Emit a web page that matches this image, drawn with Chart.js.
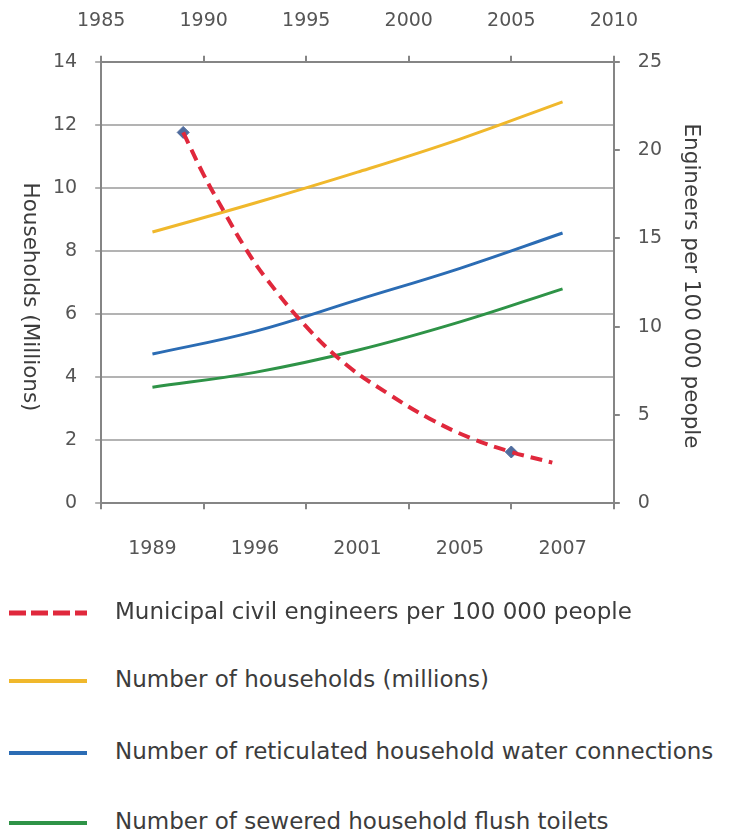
<!DOCTYPE html>
<html>
<head>
<meta charset="utf-8">
<script src="https://cdn.jsdelivr.net/npm/chart.js@4/dist/chart.umd.min.js"></script>
<style>
  html, body { margin: 0; padding: 0; background: #ffffff; }
  #wrap { position: relative; width: 733px; height: 838px; overflow: hidden; font-family: "DejaVu Sans", "Liberation Sans", Arial, sans-serif; }
  #chartBox { position: absolute; left: 0; top: -20px; width: 733px; height: 618px; }
  .leg { position: absolute; left: 0; height: 30px; width: 733px; }
  .leg svg { position: absolute; left: 0; top: 0; }
  .leg .tx { position: absolute; left: 115px; top: 0; font-size: 23px; line-height: 30px; color: #3c3c3c; white-space: nowrap; }
</style>
</head>
<body>
<div id="wrap">
  <div id="chartBox"><canvas id="c"></canvas></div>
  <div id="legend"></div>
</div>
<script>
// ---- data ----
const categories = ["1989", "1996", "2001", "2005", "2007"];
const households = [8.6, 9.52, 10.5, 11.55, 12.73];
const waterConnections = [4.73, 5.45, 6.45, 7.45, 8.57];
const flushToilets = [3.68, 4.15, 4.85, 5.75, 6.8];

const engineerYears = [1989, 1990, 1991, 1992, 1993, 1995, 1997, 1999, 2001, 2003, 2005, 2007];
const engineerValues = [21.0, 18.6, 16.5, 14.5, 12.8, 10.0, 7.8, 6.2, 4.8, 3.7, 2.9, 2.3];
const engineerMarkerYears = [1989, 2005];
const engineerMarkerValues = [21.0, 2.9];

const topTickMin = 1985, topTickMax = 2010, topTickStep = 5;
const leftMax = 14, leftStep = 2;
const rightMax = 25, rightStep = 5;

const seriesNames = [
  "Municipal civil engineers per 100 000 people",
  "Number of households (millions)",
  "Number of reticulated household water connections",
  "Number of sewered  household flush toilets"
];
const leftTitle = "Households (Millions)";
const rightTitle = "Engineers per 100 000 people";

// ---- styles ----
const RED = "#E0283C", YELLOW = "#F0B82C", BLUE = "#2B6CB4", GREEN = "#2E9347", MARKER = "#4F6C9E";
const AXIS = "#858585", GRID = "#b3b3b3", TICKTXT = "#555555";
const FONT = "'DejaVu Sans', 'Liberation Sans', Arial, sans-serif";
const tickFont = { family: FONT, size: 19 };

const engineerPts = engineerYears.map((y, i) => ({ x: y, y: engineerValues[i] }));
const markerPts = engineerMarkerYears.map((y, i) => ({ x: y, y: engineerMarkerValues[i] }));

const axisTitles = {
  id: "axisTitles",
  afterDraw(chart) {
    const ctx = chart.ctx;
    const off = 20; // container shifted up by 20px
    [[leftTitle, 30, 297], [rightTitle, 691, 286]].forEach(([t, x, y]) => {
      ctx.save();
      ctx.fillStyle = "#3c3c3c";
      ctx.font = "21.5px " + FONT;
      ctx.textAlign = "center";
      ctx.textBaseline = "middle";
      ctx.translate(x, y + off);
      ctx.rotate(Math.PI / 2);
      ctx.fillText(t, 0, 0);
      ctx.restore();
    });
  }
};

new Chart(document.getElementById("c"), {
  type: "line",
  data: {
    labels: categories,
    datasets: [
      { label: seriesNames[0], data: engineerPts, xAxisID: "x2", yAxisID: "y2",
        borderColor: RED, borderWidth: 4, borderDash: [12, 7], pointRadius: 0, tension: 0.4, fill: false, order: 1 },
      { label: "markers", data: markerPts, xAxisID: "x2", yAxisID: "y2", showLine: false,
        pointStyle: "rectRot", pointRadius: 6, pointBackgroundColor: MARKER, pointBorderColor: MARKER, borderColor: MARKER, order: 2 },
      { label: seriesNames[1], data: households, xAxisID: "x", yAxisID: "y",
        borderColor: YELLOW, borderWidth: 3, pointRadius: 0, tension: 0.4, fill: false, order: 3 },
      { label: seriesNames[2], data: waterConnections, xAxisID: "x", yAxisID: "y",
        borderColor: BLUE, borderWidth: 3, pointRadius: 0, tension: 0.4, fill: false, order: 4 },
      { label: seriesNames[3], data: flushToilets, xAxisID: "x", yAxisID: "y",
        borderColor: GREEN, borderWidth: 3, pointRadius: 0, tension: 0.4, fill: false, order: 5 }
    ]
  },
  options: {
    responsive: true,
    maintainAspectRatio: false,
    animation: false,
    layout: { padding: { left: 35, right: 53, top: 7, bottom: 10 } },
    plugins: { legend: { display: false }, tooltip: { enabled: false }, title: { display: false } },
    scales: {
      x: {
        type: "category", position: "bottom", offset: true,
        grid: { offset: true, drawOnChartArea: false, drawTicks: true, tickLength: 6, color: AXIS, lineWidth: 2 },
        border: { display: true, color: AXIS, width: 2 },
        ticks: { color: TICKTXT, font: tickFont, padding: 28, maxRotation: 0 }
      },
      x2: {
        type: "linear", position: "top", min: topTickMin, max: topTickMax,
        grid: { drawOnChartArea: false, drawTicks: true, tickLength: 6, color: AXIS, lineWidth: 2 },
        border: { display: true, color: AXIS, width: 2 },
        ticks: { stepSize: topTickStep, color: TICKTXT, font: tickFont, padding: 23, callback: v => String(v), maxRotation: 0 }
      },
      y: {
        type: "linear", position: "left", min: 0, max: leftMax,
        grid: { drawOnChartArea: true, drawTicks: true, tickLength: 6, color: GRID, lineWidth: 2 },
        border: { display: true, color: AXIS, width: 2 },
        ticks: { stepSize: leftStep, color: TICKTXT, font: tickFont, padding: 18 }
      },
      y2: {
        type: "linear", position: "right", min: 0, max: rightMax,
        grid: { drawOnChartArea: false, drawTicks: true, tickLength: 6, color: AXIS, lineWidth: 2 },
        border: { display: true, color: AXIS, width: 2 },
        ticks: { stepSize: rightStep, color: TICKTXT, font: tickFont, padding: 18 }
      }
    }
  },
  plugins: [axisTitles]
});

// ---- legend (HTML, real text) ----
const legendStyles = [
  { color: RED, dash: "17 5", width: 5, center: 611 },
  { color: YELLOW, dash: "", width: 4, center: 679 },
  { color: BLUE, dash: "", width: 4, center: 751 },
  { color: GREEN, dash: "", width: 4, center: 821 }
];
const legendEl = document.getElementById("legend");
const NS = "http://www.w3.org/2000/svg";
seriesNames.forEach((name, i) => {
  const s = legendStyles[i];
  const row = document.createElement("div");
  row.className = "leg";
  row.style.top = (s.center - 15) + "px";
  const svg = document.createElementNS(NS, "svg");
  svg.setAttribute("width", "100");
  svg.setAttribute("height", "30");
  const ln = document.createElementNS(NS, "line");
  ln.setAttribute("x1", "9"); ln.setAttribute("x2", "87");
  ln.setAttribute("y1", "17"); ln.setAttribute("y2", "17");
  ln.setAttribute("stroke", s.color);
  ln.setAttribute("stroke-width", String(s.width));
  if (s.dash) ln.setAttribute("stroke-dasharray", s.dash);
  svg.appendChild(ln);
  const tx = document.createElement("div");
  tx.className = "tx";
  tx.textContent = name;
  row.appendChild(svg);
  row.appendChild(tx);
  legendEl.appendChild(row);
});
</script>
</body>
</html>
